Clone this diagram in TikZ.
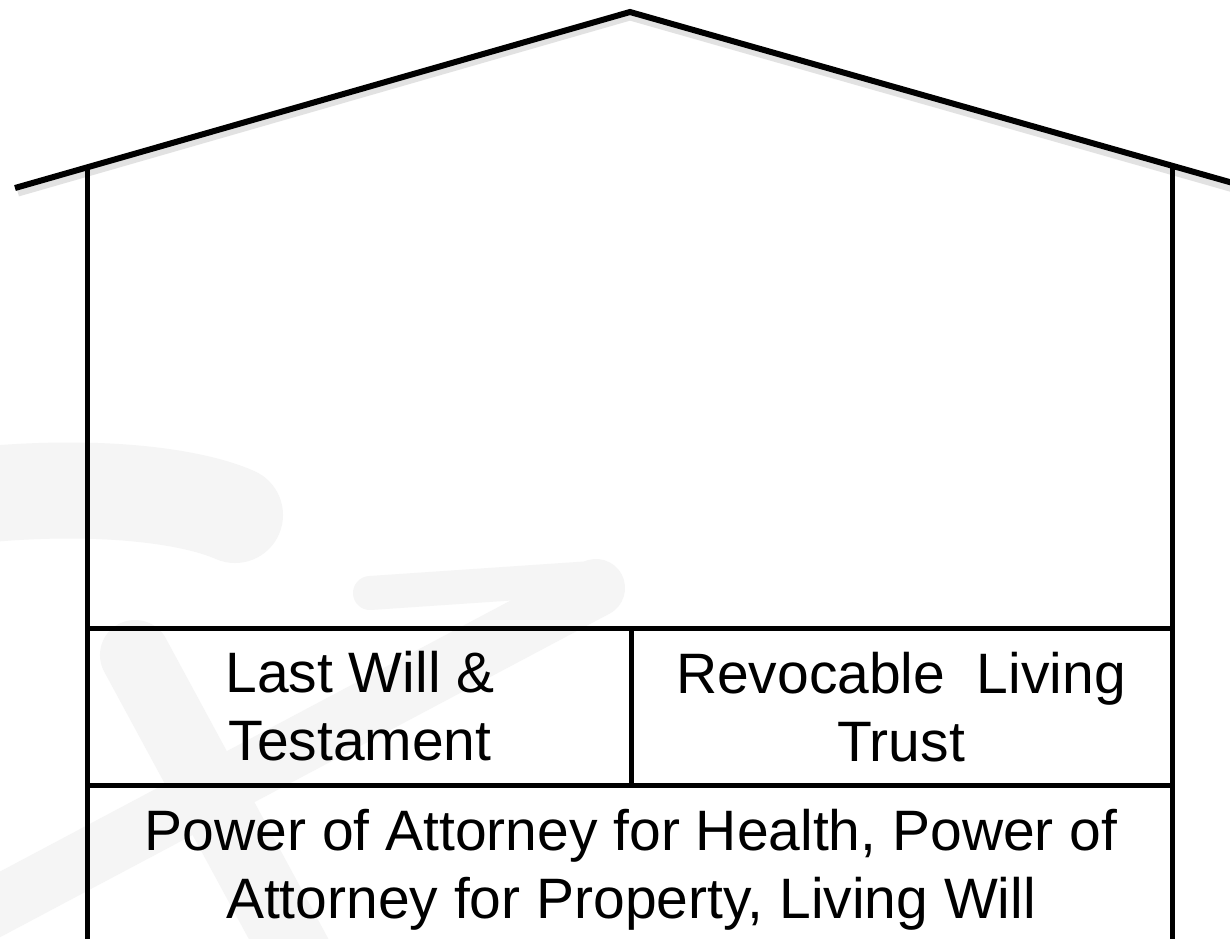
\documentclass[tikz,border=0pt]{standalone}
\usepackage{fontspec}
\setmainfont{Liberation Sans}
\begin{document}
\begin{tikzpicture}[x=1pt,y=-1pt,
  wall/.style={line width=5pt},
  roofline/.style={line width=6pt, line join=miter},
  roofshade/.style={line width=7pt, draw=black!25, opacity=0.45},
  cell/.style={font=\fontsize{57}{68}\selectfont, align=center, inner sep=0pt, anchor=north},
  wm/.style={line width=#1, line cap=round, draw=black!4}]

% page
\useasboundingbox (0,0) rectangle (1230,938);
\fill[white] (0,0) rectangle (1230,938);

% faint logo in the background
\draw[wm=96pt] (-40,497) .. controls (90,482) and (190,495) .. (235,515);
\draw[wm=34pt] (370,593) -- (592,578);
\draw[wm=58pt] (596,588) -- (-20,915);
\draw[wm=70pt] (135,655) -- (300,960);

% key points of the house
\coordinate (eaveL) at (15,188);
\coordinate (apex)  at (630,12);
\coordinate (eaveR) at (1240,185);
\coordinate (wallLtop) at (87,167);
\coordinate (wallRtop) at (1172,166);
\coordinate (wallLbot) at (87,945);
\coordinate (wallRbot) at (1172,945);
\coordinate (floorL) at (87,628);
\coordinate (floorR) at (1172,628);
\coordinate (baseL)  at (87,785);
\coordinate (baseR)  at (1172,785);
\coordinate (divTop) at (631,628);
\coordinate (divBot) at (631,785);

% roof with its soft shadow
\draw[roofshade] ([shift={(3,5)}]eaveL) -- ([shift={(0,5)}]apex) -- ([shift={(-3,5)}]eaveR);
\draw[roofline] (eaveL) -- (apex) -- (eaveR);

% walls
\draw[wall] (wallLtop) -- (wallLbot);
\draw[wall] (wallRtop) -- (wallRbot);

% floors and divider
\draw[wall] (floorL) -- (floorR);
\draw[wall] (baseL) -- (baseR);
\draw[wall] (divTop) -- (divBot);

% texts
\node[cell] (will)  at (360,651) {Last Will \&\\Testament};
\node[cell] (trust) at (901,652) {Revocable\ \ Living\\Trust};
\node[cell] (poa)   at (631,809) {Power of Attorney for Health, Power of\\Attorney for Property, Living Will};
\end{tikzpicture}
\end{document}
